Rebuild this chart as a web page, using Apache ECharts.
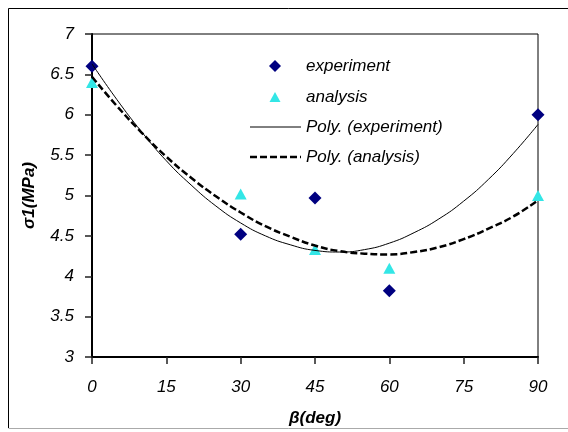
<!DOCTYPE html>
<html>
<head>
<meta charset="utf-8">
<script src="https://cdn.jsdelivr.net/npm/echarts@6/dist/echarts.min.js"></script>
<style>
html,body{margin:0;padding:0;background:#fff;}
#chart{width:568px;height:432px;}
</style>
</head>
<body>
<div id="chart"></div>
<script>
// measured angles (deg)
const betaPoints = [0, 30, 45, 60, 90];
// sigma1 values (MPa)
const experimentValues = [6.6, 4.52, 4.97, 3.82, 6.0];
const analysisValues = [6.4, 5.02, 4.33, 4.1, 5.0];
// trendline readings along beta
const trendBeta = [0, 5, 10, 15, 20, 25, 30, 35, 40, 45, 50, 55, 60, 65, 70, 75, 80, 85, 90];
const polyExperiment = [6.63, 6.19, 5.79, 5.43, 5.13, 4.87, 4.66, 4.50, 4.39, 4.32, 4.30, 4.33, 4.41, 4.54, 4.71, 4.93, 5.20, 5.52, 5.88];
const polyAnalysis = [6.47, 6.11, 5.78, 5.48, 5.22, 4.99, 4.79, 4.62, 4.49, 4.38, 4.31, 4.28, 4.27, 4.30, 4.36, 4.46, 4.59, 4.74, 4.94];
const xTicks = {min: 0, max: 90, step: 15};
const yTicks = {min: 3, max: 7, step: 0.5};

const zip = (xs, ys) => xs.map((x, i) => [x, ys[i]]);
const FONT = 'Liberation Sans, Arial, sans-serif';
const cyan = '#33E6E6';
const navy = '#000080';

const chart = echarts.init(document.getElementById('chart'), null, {renderer: 'canvas'});
chart.setOption({
  backgroundColor: '#fff',
  animation: false,
  grid: {left: 92, right: 30, top: 34, bottom: 74, show: true, borderColor: '#000', borderWidth: 1, backgroundColor: 'transparent'},
  xAxis: {
    type: 'value', min: xTicks.min, max: xTicks.max, interval: xTicks.step,
    axisLine: {show: true, onZero: false, lineStyle: {color: '#000', width: 2}},
    axisTick: {show: true, inside: false, length: 7, lineStyle: {color: '#222', width: 1.5}},
    axisLabel: {margin: 22, fontSize: 17, fontStyle: 'italic', fontFamily: FONT, color: '#000'},
    splitLine: {show: false},
    name: 'β(deg)', nameLocation: 'middle', nameGap: 53,
    nameTextStyle: {fontSize: 17, fontWeight: 'bold', fontStyle: 'italic', fontFamily: FONT, color: '#000'}
  },
  yAxis: {
    type: 'value', min: yTicks.min, max: yTicks.max, interval: yTicks.step,
    axisLine: {show: true, onZero: false, lineStyle: {color: '#000', width: 2}},
    axisTick: {show: true, inside: false, length: 7, lineStyle: {color: '#222', width: 1.5}},
    axisLabel: {margin: 18, fontSize: 17, fontStyle: 'italic', fontFamily: FONT, color: '#000'},
    splitLine: {show: false},
    name: 'σ1(MPa)', nameLocation: 'middle', nameGap: 54,
    nameTextStyle: {fontSize: 17, fontWeight: 'bold', fontStyle: 'italic', fontFamily: FONT, color: '#000'}
  },
  series: [
    {name: 'experiment', type: 'scatter', symbol: 'diamond', symbolSize: [13, 13], itemStyle: {color: navy, opacity: 1}, data: zip(betaPoints, experimentValues), z: 2},
    {name: 'analysis', type: 'scatter', symbol: 'triangle', symbolSize: [12, 11], itemStyle: {color: cyan, opacity: 1}, data: zip(betaPoints, analysisValues), z: 2},
    {name: 'Poly. (experiment)', type: 'line', smooth: true, showSymbol: false, symbol: 'none', lineStyle: {color: '#000', width: 1}, data: zip(trendBeta, polyExperiment), z: 3},
    {name: 'Poly. (analysis)', type: 'line', smooth: true, showSymbol: false, symbol: 'none', lineStyle: {color: '#000', width: 2.5, type: [7, 3]}, data: zip(trendBeta, polyAnalysis), z: 3}
  ],
  graphic: [
    {type: 'line', shape: {x1: 8.5, y1: 8.5, x2: 568, y2: 8.5}, style: {stroke: '#000', lineWidth: 1}},
    {type: 'line', shape: {x1: 8.5, y1: 8.5, x2: 8.5, y2: 428}, style: {stroke: '#000', lineWidth: 1}},
    {type: 'line', shape: {x1: 8.5, y1: 428.5, x2: 568, y2: 428.5}, style: {stroke: '#aaa', lineWidth: 1}},
    {type: 'polygon', shape: {points: [[275, 60], [281, 66], [275, 72], [269, 66]]}, style: {fill: navy}},
    {type: 'text', x: 306, y: 66, style: {text: 'experiment', font: 'italic 17px ' + FONT, fill: '#000', verticalAlign: 'middle'}},
    {type: 'polygon', shape: {points: [[275, 92], [280.5, 102], [269.5, 102]]}, style: {fill: cyan}},
    {type: 'text', x: 306, y: 97, style: {text: 'analysis', font: 'italic 17px ' + FONT, fill: '#000', verticalAlign: 'middle'}},
    {type: 'line', shape: {x1: 250, y1: 127, x2: 301, y2: 127}, style: {stroke: '#000', lineWidth: 1}},
    {type: 'text', x: 306, y: 127, style: {text: 'Poly. (experiment)', font: 'italic 17px ' + FONT, fill: '#000', verticalAlign: 'middle'}},
    {type: 'line', shape: {x1: 250, y1: 157, x2: 301, y2: 157}, style: {stroke: '#000', lineWidth: 2.5, lineDash: [7, 3]}},
    {type: 'text', x: 306, y: 157, style: {text: 'Poly. (analysis)', font: 'italic 17px ' + FONT, fill: '#000', verticalAlign: 'middle'}}
  ]
});
</script>
</body>
</html>
